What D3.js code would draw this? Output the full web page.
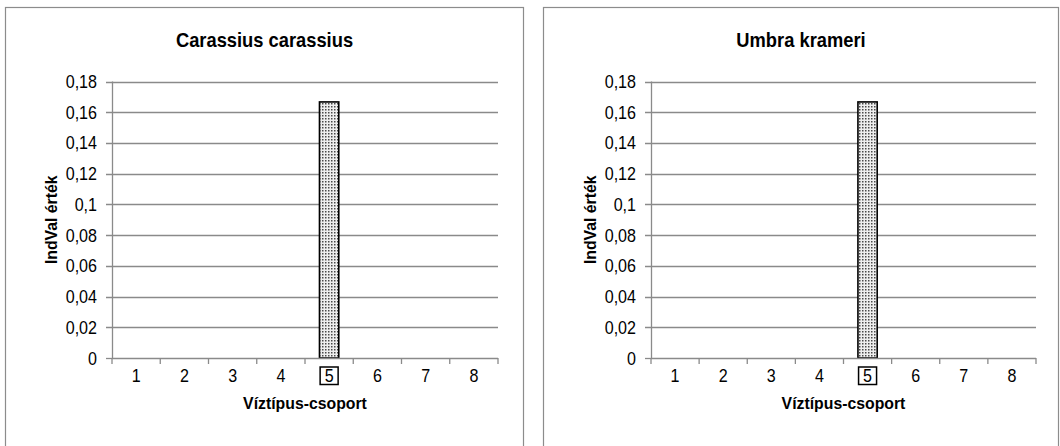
<!DOCTYPE html>
<html>
<head>
<meta charset="utf-8">
<script src="https://cdn.jsdelivr.net/npm/d3@7"></script>
<style>
  html, body { margin: 0; padding: 0; background: #fff; }
  svg { display: block; font-family: "Liberation Sans", Arial, sans-serif; }
</style>
</head>
<body>
<svg id="chart" width="1060" height="446"></svg>
<script>
// ---- data ----
const categories = ["1", "2", "3", "4", "5", "6", "7", "8"];
const carassiusValues = [0, 0, 0, 0, 0.1667, 0, 0, 0];
const umbraValues = [0, 0, 0, 0, 0.1667, 0, 0, 0];
const yTickValues = [0, 0.02, 0.04, 0.06, 0.08, 0.1, 0.12, 0.14, 0.16, 0.18];
const yTickLabels = ["0", "0,02", "0,04", "0,06", "0,08", "0,1", "0,12", "0,14", "0,16", "0,18"];
const panelTitles = ["Carassius carassius", "Umbra krameri"];
const highlightedCategory = "5";
const xAxisTitle = "Víztípus-csoport";
const yAxisTitle = "IndVal érték";

const svg = d3.select("#chart");
const defs = svg.append("defs");
const pat = defs.append("pattern").attr("id", "dots")
  .attr("patternUnits", "userSpaceOnUse").attr("width", 3).attr("height", 3);
pat.append("rect").attr("width", 3).attr("height", 3).attr("fill", "#eeeeee");
pat.append("rect").attr("x", 1).attr("y", 1).attr("width", 1.5).attr("height", 1.5).attr("fill", "#4a4a4a");

function txt(g, x, y, s, opts) {
  const sx = opts.sx || 1;
  return g.append("text")
    .attr("transform", `translate(${x},${y})${opts.rotate ? " rotate(-90)" : ""} scale(${sx},1)`)
    .attr("text-anchor", opts.anchor || "middle")
    .attr("font-size", opts.size)
    .attr("font-weight", opts.bold ? "bold" : "normal")
    .attr("fill", "#000")
    .text(s);
}

const panels = [
  { left: 5, right: 523, px0: 112, px1: 498, title: panelTitles[0], values: carassiusValues },
  { left: 543, right: 1058, px0: 651, px1: 1036, title: panelTitles[1], values: umbraValues }
];

panels.forEach(p => {
  const g = svg.append("g");
  g.append("rect").attr("x", p.left + 0.5).attr("y", 7.5)
    .attr("width", p.right - p.left).attr("height", 460)
    .attr("fill", "#fff").attr("stroke", "#8c8c8c").attr("stroke-width", 1.2);

  const y = d3.scaleLinear().domain([0, 0.18]).range([358, 81.5]);
  const x = d3.scaleBand().domain(categories).range([p.px0, p.px1])
    .paddingInner(0.6).paddingOuter(0.3);
  const xb = d3.scaleLinear().domain([0, categories.length]).range([p.px0, p.px1]);

  // gridlines
  g.selectAll(".grid").data(yTickValues.slice(1)).join("line")
    .attr("x1", p.px0 - 6).attr("x2", p.px1)
    .attr("y1", d => Math.round(y(d)) + 0.5).attr("y2", d => Math.round(y(d)) + 0.5)
    .attr("stroke", "#8a8a8a").attr("stroke-width", 1.3);
  g.append("line").attr("x1", p.px0 - 6).attr("x2", p.px0)
    .attr("y1", Math.round(y(0)) + 0.5).attr("y2", Math.round(y(0)) + 0.5)
    .attr("stroke", "#8a8a8a").attr("stroke-width", 1.3);

  // y labels
  yTickValues.forEach((v, i) => {
    txt(g, p.px0 - 15, y(v) + 6.5, yTickLabels[i], { anchor: "end", size: 17.5, sx: 0.92 });
  });

  // bars
  g.selectAll(".bar").data(categories.map((c, i) => ({ c, v: p.values[i] })).filter(d => d.v > 0))
    .join("rect")
    .attr("x", d => x(d.c)).attr("width", x.bandwidth())
    .attr("y", d => y(d.v)).attr("height", d => y(0) - y(d.v))
    .attr("fill", "url(#dots)").attr("stroke", "#000").attr("stroke-width", 1.6);

  // axes lines
  g.append("line").attr("x1", p.px0 + 0.5).attr("x2", p.px0 + 0.5)
    .attr("y1", y(0.18)).attr("y2", y(0) + 0.5)
    .attr("stroke", "#8a8a8a").attr("stroke-width", 1.3);
  g.append("line").attr("x1", p.px0).attr("x2", p.px1)
    .attr("y1", Math.round(y(0)) + 0.5).attr("y2", Math.round(y(0)) + 0.5)
    .attr("stroke", "#8a8a8a").attr("stroke-width", 1.3);
  g.selectAll(".xt").data(d3.range(categories.length + 1)).join("line")
    .attr("x1", d => xb(d)).attr("x2", d => xb(d))
    .attr("y1", y(0)).attr("y2", y(0) + 6)
    .attr("stroke", "#8a8a8a").attr("stroke-width", 1.3);

  // x labels
  categories.forEach(c => {
    const cx = x(c) + x.bandwidth() / 2;
    txt(g, cx, 381.5, c, { size: 17.5, sx: 0.92 });
    if (c === highlightedCategory) {
      g.append("rect").attr("x", cx - 9).attr("y", 367).attr("width", 18).attr("height", 17.5)
        .attr("fill", "none").attr("stroke", "#000").attr("stroke-width", 1.5);
    }
  });

  // titles
  const cxp = (p.left + p.right) / 2;
  txt(g, cxp + 0.5, 46.5, p.title, { size: 19.5, bold: true, sx: 0.94 });
  txt(g, (p.px0 + p.px1) / 2, 408.5, xAxisTitle, { size: 17, bold: true, sx: 0.93 });
  txt(g, p.px0 - 55, (y(0) + y(0.18)) / 2, yAxisTitle, { size: 17, bold: true, sx: 0.93, rotate: true });
});
</script>
</body>
</html>
